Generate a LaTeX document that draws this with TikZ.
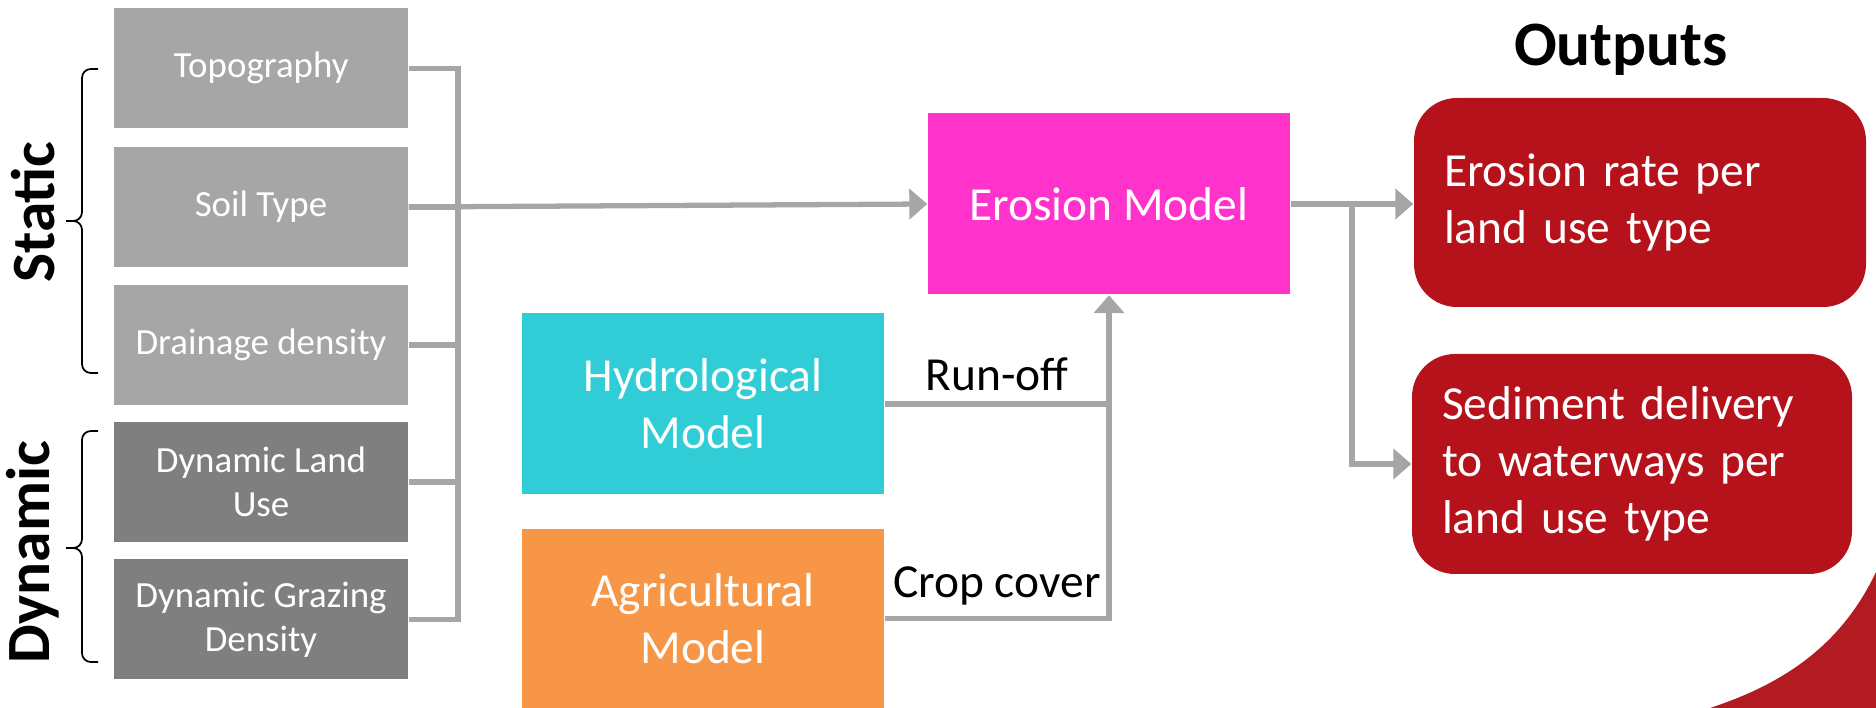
\documentclass[tikz,border=0pt]{standalone}
\usepackage{fontspec}
\setmainfont{Carlito}
\usepackage{tikz}
\usetikzlibrary{arrows.meta}

\definecolor{inputlight}{HTML}{A6A6A6}
\definecolor{inputdark}{HTML}{7F7F7F}
\definecolor{linegray}{HTML}{A6A6A6}
\definecolor{erosionpink}{HTML}{FF33CC}
\definecolor{hydrocyan}{HTML}{31CDD6}
\definecolor{agriorange}{HTML}{F79646}
\definecolor{outred}{HTML}{B5121B}
\definecolor{swooshred}{HTML}{B31B23}

\begin{document}
\begin{tikzpicture}[
    inbox/.style={minimum width=2.94cm, minimum height=1.2cm, inner sep=0pt, text=white, align=center, font=\fontsize{10.5}{12.6}\selectfont},
    statbox/.style={inbox, fill=inputlight},
    dynbox/.style={inbox, fill=inputdark},
    model/.style={minimum width=3.62cm, minimum height=1.81cm, inner sep=0pt, text=white, align=center, font=\fontsize{13.5}{16.2}\selectfont},
    outbox/.style={fill=outred, rounded corners=0.43cm, text=white, align=left, inner xsep=0.3cm, inner ysep=0pt, font=\fontsize{13.5}{16.2}\selectfont},
    grp/.style={font=\fontsize{17.5}{21}\selectfont\bfseries, rotate=90},
    lbl/.style={font=\fontsize{13.5}{16.2}\selectfont, inner sep=3pt},
    conn/.style={draw=linegray, line width=1.5pt},
    arr/.style={conn, -{Triangle[length=0.18cm, width=0.30cm]}},
    brc/.style={line width=0.5pt, rounded corners=2.5pt},
]
\useasboundingbox (0,0) rectangle (18.76,-7.08);
% === Left: inputs ===
\node[grp] (stat) at (0.33, -2.12) {Static};
\node[grp] (dyn) at (0.33, -5.52) {Dynamic};
% braces
\draw[brc] (0.98, -0.69) -- (0.82, -0.69) -- (0.82, -2.21) -- (0.66, -2.21);
\draw[brc] (0.98, -3.73) -- (0.82, -3.73) -- (0.82, -2.21) -- (0.66, -2.21);
\draw[brc] (0.98, -4.31) -- (0.82, -4.31) -- (0.82, -5.48) -- (0.66, -5.48);
\draw[brc] (0.98, -6.62) -- (0.82, -6.62) -- (0.82, -5.48) -- (0.66, -5.48);
\node[statbox] (topo) at (2.61, -0.683) {Topography};
\node[statbox] (soil) at (2.61, -2.07) {Soil Type};
\node[statbox] (drain) at (2.61, -3.45) {Drainage density};
\node[dynbox] (dlu) at (2.61, -4.82) {Dynamic Land\\Use};
\node[dynbox] (dgd) at (2.61, -6.195) {Dynamic Grazing\\Density};
% collecting line
\coordinate (bus) at (4.58, 0);
\draw[conn] (topo.east) -- (topo.east -| bus) -- (dgd.east -| bus) -- (dgd.east);
\foreach \b in {soil, drain, dlu}
    \draw[conn] (\b.east) -- (\b.east -| bus);
% === Middle: models ===
\node[model, fill=erosionpink] (erosion) at (11.09, -2.04) {Erosion Model};
\node[model, fill=hydrocyan] (hydro) at (7.03, -4.04) {Hydrological\\Model};
\node[model, fill=agriorange, minimum height=1.79cm] (agri) at (7.03, -6.185) {Agricultural\\Model};
\draw[arr] (soil.east) -- (erosion.west);
\draw[conn] (hydro.east) -- node[lbl, above] {Run-off} (hydro.east -| erosion.south);
\draw[arr] (agri.east) -- node[lbl, above] {Crop cover} (agri.east -| erosion.south) -- (erosion.south);
% === Right: outputs ===
\node[font=\fontsize{18}{21.6}\selectfont\bfseries] (otitle) at (16.21, -0.50) {Outputs};
\node[outbox, text width=3.92cm, minimum height=2.09cm] (out1) at (16.40, -2.025) {Erosion rate per\\land use type};
\node[outbox, text width=3.80cm, minimum height=2.20cm] (out2) at (16.32, -4.64) {Sediment delivery\\to waterways per\\land use type};
\coordinate (split) at (13.52, -2.04);
\draw[conn] (erosion.east) -- (split);
\draw[arr] (split) -- (split -| out1.west);
\draw[arr] (split) |- (out2.west);
% corner decoration
\fill[swooshred] (18.76, -5.72) .. controls (18.40, -6.48) and (17.80, -6.85) .. (17.10, -7.08) -- (18.76, -7.08) -- cycle;
\end{tikzpicture}
\end{document}
